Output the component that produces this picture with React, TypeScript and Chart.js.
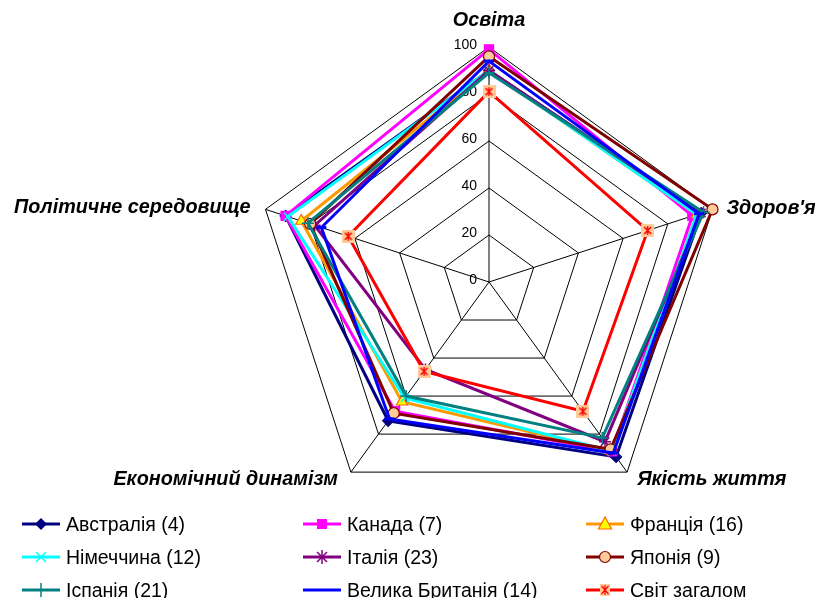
import React, { useEffect, useRef } from "react";
import { Chart, registerables } from "chart.js";

Chart.register(...registerables);

// ---------- DATA ----------
const categories = ["Освіта", "Здоров'я", "Якість життя", "Економічний динамізм", "Політичне середовище"];
const tickValues = [0, 20, 40, 60, 80, 100];

const seriesNames = [
  "Австралія (4)",
  "Канада (7)",
  "Франція (16)",
  "Німеччина (12)",
  "Італія (23)",
  "Японія (9)",
  "Іспанія (21)",
  "Велика Британія (14)",
  "Світ загалом",
];

const australia = [90, 95, 92, 73, 91];
const canada = [99, 91, 89, 68, 91];
const france = [90, 93, 89, 63, 84];
const germany = [90, 93, 89, 61, 90];
const italy = [90, 95, 84, 46, 78];
const japan = [96, 100, 88, 69, 80];
const spain = [89, 96, 82, 60, 81];
const uk = [94, 94, 90, 72, 75];
const world = [81, 71, 68, 47, 63];

const seriesValues = [australia, canada, france, germany, italy, japan, spain, uk, world];

// ---------- STYLES ----------
const lineColors = ["#000080", "#FF00FF", "#FF9900", "#00FFFF", "#800080", "#800000", "#008080", "#0000FF", "#FF0000"];
const markerFill = ["#000080", "#FF00FF", "#FFFF00", "#00FFFF", "#800080", "#FFCC99", "#008080", "#0000FF", "#FFCC99"];
const markerStroke = ["#000080", "#FF00FF", "#FF6600", "#00FFFF", "#800080", "#800000", "#008080", "#0000FF", "#FF0000"];
const markerKinds = ["rectRot", "rect", "triangle", "crossRot", "star", "circle", "cross", "line", "world"];
const markerRadius = [5.5, 6.5, 6.5, 5.5, 6, 5.5, 6, 5, 6];

const FONT = '"Liberation Sans", Arial, sans-serif';

const labelOffsets = [
  { dx: 0, dy: -26, align: "center" },
  { dx: 14, dy: -1, align: "left" },
  { dx: 10, dy: 7, align: "left" },
  { dx: -13, dy: 7, align: "right" },
  { dx: -15, dy: -2, align: "right" },
];

function makeWorldMarker(): HTMLCanvasElement {
  const c = document.createElement("canvas");
  c.width = 13;
  c.height = 13;
  const g = c.getContext("2d")!;
  g.fillStyle = "#FFCC99";
  g.fillRect(0, 0, 13, 13);
  g.strokeStyle = "#FF0000";
  g.lineWidth = 1.5;
  g.beginPath();
  g.moveTo(3, 3); g.lineTo(10, 10);
  g.moveTo(10, 3); g.lineTo(3, 10);
  g.moveTo(6.5, 2); g.lineTo(6.5, 11);
  g.stroke();
  return c;
}

const labelPlugin = {
  id: "customLabels",
  beforeDatasetsDraw(chart: any) {
    const scale = chart.scales.r;
    const ctx = chart.ctx;
    ctx.save();
    ctx.fillStyle = "#000";
    ctx.font = `14px ${FONT}`;
    ctx.textAlign = "right";
    ctx.textBaseline = "middle";
    tickValues.forEach((v) => {
      const y = scale.yCenter - scale.getDistanceFromCenterForValue(v);
      ctx.fillText(String(v), scale.xCenter - 12, y - 2);
    });
    ctx.font = `italic bold 19.8px ${FONT}`;
    categories.forEach((c, i) => {
      const p = scale.getPointPosition(i, scale.drawingArea);
      const o = labelOffsets[i];
      ctx.textAlign = o.align;
      ctx.fillText(c, p.x + o.dx, p.y + o.dy);
    });
    ctx.restore();
  },
};

function LegendMarker({ i }: { i: number }) {
  const kind = markerKinds[i];
  const c = lineColors[i];
  const f = markerFill[i];
  const s = markerStroke[i];
  const cx = 19, cy = 9;
  let m: React.ReactNode = null;
  if (kind === "rectRot") m = <polygon points={`${cx},${cy - 6} ${cx + 6},${cy} ${cx},${cy + 6} ${cx - 6},${cy}`} fill={f} />;
  else if (kind === "rect") m = <rect x={cx - 5} y={cy - 5} width={10} height={10} fill={f} />;
  else if (kind === "triangle") m = <polygon points={`${cx},${cy - 7} ${cx + 6.5},${cy + 5} ${cx - 6.5},${cy + 5}`} fill={f} stroke={s} strokeWidth={1.2} />;
  else if (kind === "crossRot") m = <path d={`M${cx - 5} ${cy - 5}L${cx + 5} ${cy + 5}M${cx + 5} ${cy - 5}L${cx - 5} ${cy + 5}`} stroke={c} strokeWidth={1.5} />;
  else if (kind === "star") m = <path d={`M${cx - 5} ${cy - 5}L${cx + 5} ${cy + 5}M${cx + 5} ${cy - 5}L${cx - 5} ${cy + 5}M${cx} ${cy - 7}L${cx} ${cy + 7}`} stroke={c} strokeWidth={1.5} />;
  else if (kind === "circle") m = <circle cx={cx} cy={cy} r={5.5} fill={f} stroke={s} strokeWidth={1.2} />;
  else if (kind === "cross") m = <path d={`M${cx} ${cy - 7}L${cx} ${cy + 7}`} stroke={c} strokeWidth={1.5} />;
  else if (kind === "world")
    m = (
      <g>
        <rect x={cx - 5} y={cy - 6} width={10} height={12} fill="#FFCC99" />
        <path d={`M${cx - 3.5} ${cy - 4}L${cx + 3.5} ${cy + 4}M${cx + 3.5} ${cy - 4}L${cx - 3.5} ${cy + 4}M${cx} ${cy - 5}L${cx} ${cy + 5}`} stroke="#FF0000" strokeWidth={1.2} />
      </g>
    );
  return (
    <svg width={39} height={18} style={{ display: "block" }}>
      <line x1={0} y1={cy} x2={38} y2={cy} stroke={c} strokeWidth={3} />
      {m}
    </svg>
  );
}

const legendColX = [22, 303, 586];
const legendRowY = [524, 557, 590];

export default function App() {
  const ref = useRef<HTMLCanvasElement | null>(null);

  useEffect(() => {
    if (!ref.current) return;
    const worldImg = makeWorldMarker();
    const n = seriesValues.length;
    const datasets = seriesValues.map((vals, i) => ({
      label: seriesNames[i],
      data: vals,
      borderColor: lineColors[i],
      backgroundColor: markerFill[i],
      borderWidth: 3,
      fill: false,
      tension: 0,
      order: n - i,
      pointStyle: markerKinds[i] === "world" ? worldImg : markerKinds[i],
      pointRadius: markerRadius[i],
      pointBackgroundColor: markerFill[i],
      pointBorderColor: markerStroke[i],
      pointBorderWidth: ["crossRot", "star", "cross"].includes(markerKinds[i]) ? 1.5 : markerKinds[i] === "line" ? 3 : 1.2,
    }));
    const chart = new Chart(ref.current, {
      type: "radar",
      data: { labels: categories, datasets },
      options: {
        responsive: false,
        animation: false,
        layout: { padding: { left: 254, top: 47, right: 91, bottom: 81 } },
        plugins: { legend: { display: false }, tooltip: { enabled: false } },
        scales: {
          r: {
            min: 0,
            max: 100,
            ticks: { stepSize: 20, display: false },
            grid: { color: "#000", lineWidth: 1, circular: false },
            angleLines: { color: "#000", lineWidth: 1 },
            pointLabels: { display: false },
          },
        },
      } as any,
      plugins: [labelPlugin as any],
    });
    return () => chart.destroy();
  }, []);

  return (
    <div style={{ position: "absolute", left: 0, top: 0, width: 815, height: 598, overflow: "hidden", background: "#fff" }}>
      <canvas ref={ref} width={815} height={598} style={{ position: "absolute", left: 0, top: 0 }} />
      {seriesNames.map((name, i) => {
        const col = i % 3;
        const row = Math.floor(i / 3);
        return (
          <div
            key={name}
            style={{
              position: "absolute",
              left: legendColX[col],
              top: legendRowY[row] - 12,
              height: 24,
              display: "flex",
              alignItems: "center",
              fontFamily: FONT,
              fontSize: 19.5,
              color: "#000",
              whiteSpace: "nowrap",
            }}
          >
            <LegendMarker i={i} />
            <span style={{ marginLeft: 5 }}>{name}</span>
          </div>
        );
      })}
    </div>
  );
}
